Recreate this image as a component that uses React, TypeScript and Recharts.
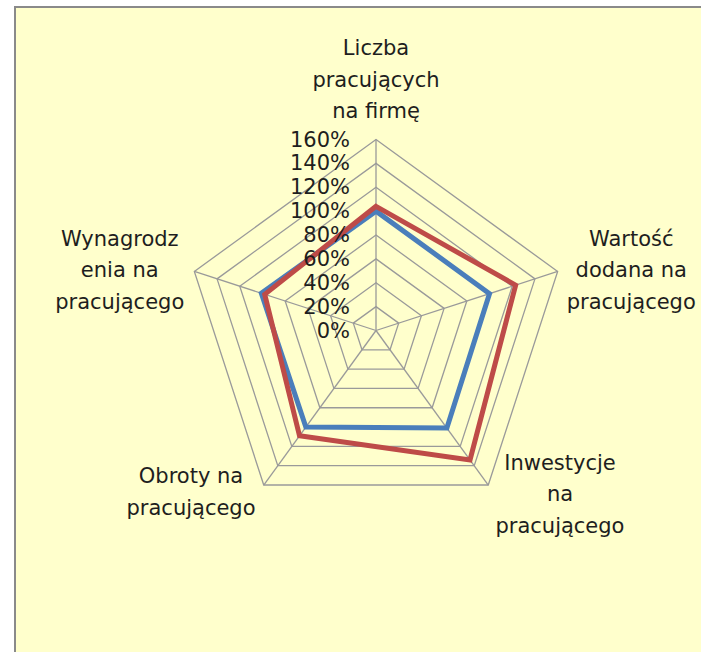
import React from 'react';
import { RadarChart, Radar, PolarGrid, PolarAngleAxis, PolarRadiusAxis } from 'recharts';

const categories = [
  'Liczba pracujących na firmę',
  'Wartość dodana na pracującego',
  'Inwestycje na pracującego',
  'Obroty na pracującego',
  'Wynagrodzenia na pracującego',
];

const categoryLines = [
  ['Liczba', 'pracujących', 'na firmę'],
  ['Wartość', 'dodana na', 'pracującego'],
  ['Inwestycje', 'na', 'pracującego'],
  ['Obroty na', 'pracującego'],
  ['Wynagrodz', 'enia na', 'pracującego'],
];

const seriesBlue = [100, 100, 101, 100, 101];
const seriesRed = [104, 123, 134, 109, 98];

const radiusTicks = [0, 20, 40, 60, 80, 100, 120, 140, 160];

const data = categories.map((name, i) => ({
  name,
  blue: seriesBlue[i],
  red: seriesRed[i],
}));

const FONT = '"DejaVu Sans", sans-serif';
const FONT_SIZE = 21;
const LINE_H = 31.5;
// offset of each label block centre from the tick point recharts hands over
const labelOffsets = [
  { dx: 0, dy: -52 },
  { dx: 66, dy: 1 },
  { dx: 67, dy: 3 },
  { dx: -68, dy: 0.5 },
  { dx: -67, dy: 1 },
];

const AngleTick = (props: any) => {
  const { x, y, index } = props;
  const lines = categoryLines[index] || [];
  const off = labelOffsets[index] || { dx: 0, dy: 0 };
  const cx = x + off.dx;
  const cy = y + off.dy;
  return (
    <text textAnchor="middle" fontFamily={FONT} fontSize={FONT_SIZE} fill="#1e1e1e">
      {lines.map((l, i) => (
        <tspan key={i} x={cx} y={cy + (i - (lines.length - 1) / 2) * LINE_H} dominantBaseline="central">
          {l}
        </tspan>
      ))}
    </text>
  );
};

const RadiusTick = (props: any) => {
  const { x, y, payload } = props;
  return (
    <text x={x - 26} y={y} textAnchor="end" dominantBaseline="central" fontFamily={FONT} fontSize={FONT_SIZE} fill="#1e1e1e">
      {payload.value}%
    </text>
  );
};

export default function App() {
  return (
    <div style={{ position: 'fixed', left: 0, top: 0, width: 701, height: 652, overflow: 'hidden', background: '#ffffff' }}>
      <div
        style={{
          position: 'absolute',
          left: 14,
          top: 6,
          width: 720,
          height: 680,
          background: '#ffffcc',
          borderLeft: '2px solid #8a8a8a',
          borderTop: '2px solid #8a8a8a',
        }}
      />
      <div style={{ position: 'absolute', left: 0, top: 0 }}>
        <RadarChart
          width={701}
          height={652}
          data={data}
          cx={376}
          cy={330.5}
          outerRadius={191}
          margin={{ top: 0, right: 0, bottom: 0, left: 0 }}
        >
          <PolarGrid gridType="polygon" stroke="#9a9a9a" strokeWidth={1.3} />
          <PolarAngleAxis dataKey="name" tick={<AngleTick />} tickLine={false} axisLine={false} />
          <PolarRadiusAxis
            angle={90}
            domain={[0, 160]}
            ticks={radiusTicks}
            tickCount={9}
            type="number"
            axisLine={false}
            tickLine={false}
            tick={<RadiusTick />}
          />
          <Radar
            name="Seria 1"
            dataKey="blue"
            stroke="#4a7ebb"
            strokeWidth={5}
            fill="none"
            fillOpacity={0}
            strokeLinejoin="miter"
            isAnimationActive={false}
          />
          <Radar
            name="Seria 2"
            dataKey="red"
            stroke="#be4b48"
            strokeWidth={5}
            fill="none"
            fillOpacity={0}
            strokeLinejoin="miter"
            isAnimationActive={false}
          />
        </RadarChart>
      </div>
    </div>
  );
}
